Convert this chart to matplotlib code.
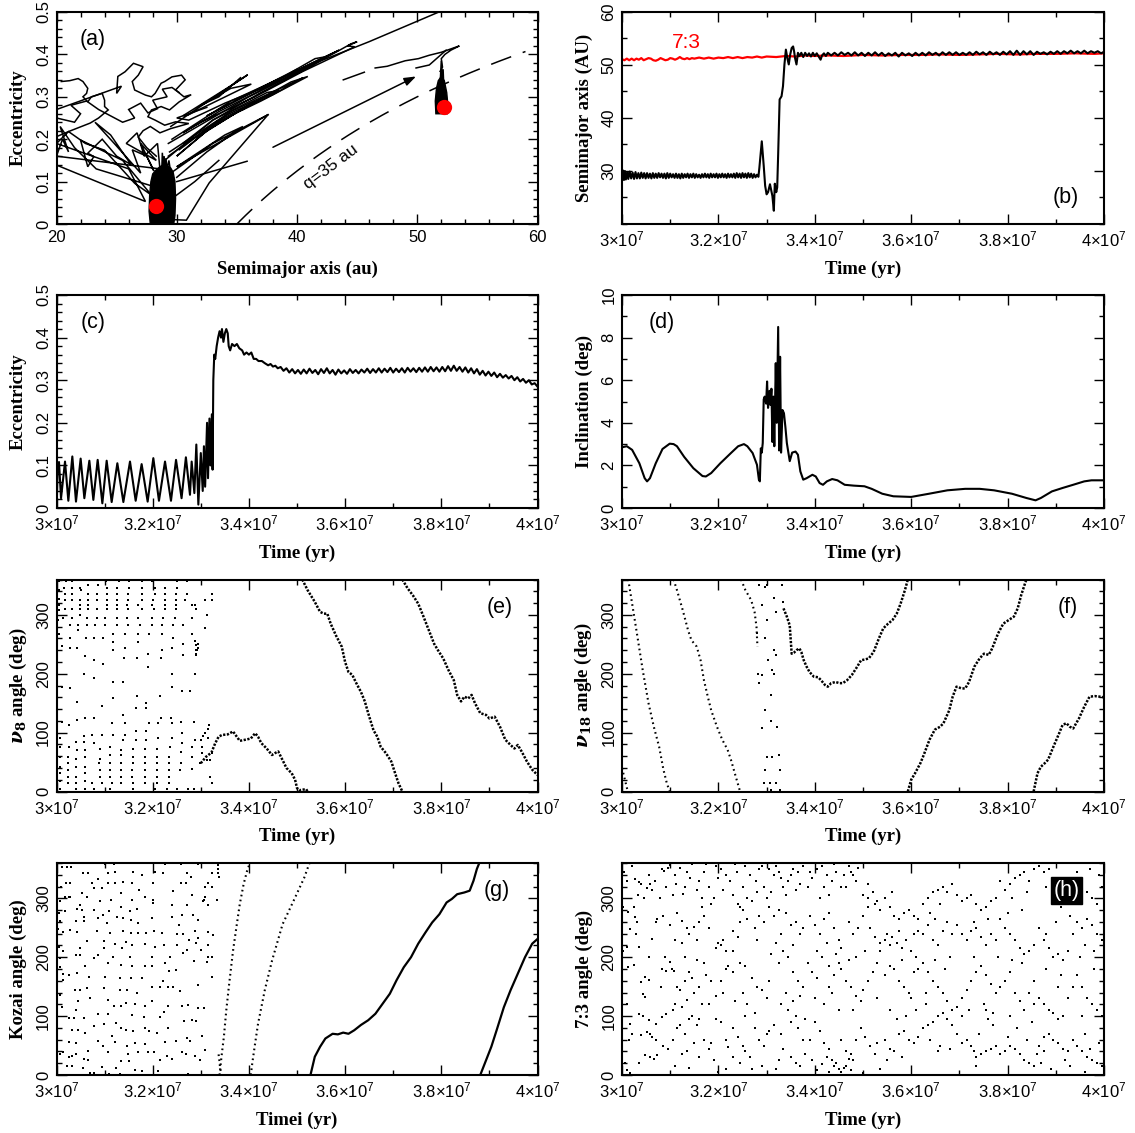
import numpy as np
import matplotlib
matplotlib.use("Agg")
import matplotlib.pyplot as plt
from matplotlib.ticker import MultipleLocator, FixedLocator, FixedFormatter, FuncFormatter

plt.rcParams["font.family"] = ["Liberation Sans", "DejaVu Sans"]
plt.rcParams["mathtext.fontset"] = "custom"
plt.rcParams["mathtext.rm"] = "Liberation Sans"
plt.rcParams["mathtext.it"] = "DejaVu Serif:italic:bold"
plt.rcParams["mathtext.bf"] = "DejaVu Serif:bold"

MYR = 1.0e6  # times below are given in Myr

# ---------------- (a) eccentricity vs semimajor axis ----------------
Q_PERI = 35.0
a_now_start, e_now_start = 28.25, 0.043
a_now_end, e_now_end = 52.2, 0.276
arrow_tail = (38.0, 0.181)
arrow_head = (49.9, 0.348)

trail_upper_left = [(20.0, 0.270), (25.4, 0.325), (25.0, 0.308), (25.1, 0.348), (25.7, 0.359), (26.4, 0.379),
                    (27.2, 0.371), (26.8, 0.351), (26.3, 0.336), (26.5, 0.316), (27.4, 0.304), (27.9, 0.300),
                    (28.2, 0.308), (28.7, 0.332), (29.0, 0.336), (29.6, 0.347), (30.4, 0.351), (30.7, 0.340),
                    (30.3, 0.328), (29.9, 0.316), (30.6, 0.300), (31.2, 0.305), (30.2, 0.288), (29.4, 0.269),
                    (28.7, 0.277), (27.9, 0.269), (27.6, 0.253), (28.2, 0.245), (29.0, 0.233), (29.9, 0.241),
                    (31.0, 0.237), (29.5, 0.225), (28.6, 0.215), (27.8, 0.230), (27.2, 0.220), (26.8, 0.205),
                    (27.5, 0.180), (28.3, 0.160)]
trail_upper_left2 = [(20.0, 0.250), (21.5, 0.240), (22.0, 0.260), (21.2, 0.280), (22.5, 0.290), (23.5, 0.270),
                     (24.5, 0.255), (25.5, 0.240), (26.5, 0.250), (26.0, 0.270), (27.0, 0.285), (27.6, 0.262),
                     (28.4, 0.272), (28.0, 0.292), (29.2, 0.300), (28.8, 0.318), (29.6, 0.322), (30.2, 0.310)]
trail_left = [(20.4, 0.336), (21.1, 0.338), (21.8, 0.343), (22.2, 0.336), (22.6, 0.320), (22.5, 0.308),
              (22.2, 0.300), (22.6, 0.288), (22.9, 0.300), (23.8, 0.308), (24.0, 0.292), (24.0, 0.277),
              (24.3, 0.269), (23.5, 0.250), (22.8, 0.238), (21.9, 0.228), (21.0, 0.218), (20.0, 0.206)]
trail_converge = [(20.0, 0.139), (27.4, 0.053), (26.0, 0.130), (20.0, 0.190), (21.0, 0.218), (22.4, 0.190),
                  (24.0, 0.174), (26.5, 0.096), (27.9, 0.068), (25.5, 0.150), (22.0, 0.198), (22.6, 0.135),
                  (23.1, 0.159), (22.6, 0.167), (23.8, 0.200), (25.0, 0.160), (26.2, 0.140), (24.5, 0.210),
                  (23.2, 0.240), (24.8, 0.190), (27.0, 0.120), (26.3, 0.175), (27.5, 0.160), (28.1, 0.125),
                  (27.0, 0.190), (28.3, 0.150), (25.8, 0.190), (26.7, 0.215), (27.3, 0.160), (28.4, 0.190),
                  (28.6, 0.130), (20.0, 0.160), (20.5, 0.200), (21.0, 0.170), (20.3, 0.230), (21.5, 0.180),
                  (23.3, 0.130), (27.9, 0.090)]
fan_top = [(29.3, 0.190), (36.0, 0.300), (42.0, 0.385), (46.0, 0.430), (51.8, 0.500)]
fan_upper = [(29.0, 0.150), (33.0, 0.245), (37.0, 0.310), (41.0, 0.370), (44.5, 0.425), (45.0, 0.430),
             (44.2, 0.420), (44.8, 0.418), (40.5, 0.360), (36.5, 0.300), (32.0, 0.240), (30.5, 0.215),
             (33.5, 0.265), (38.0, 0.330), (42.5, 0.395), (41.5, 0.390), (37.5, 0.325), (34.0, 0.285),
             (31.0, 0.245), (30.0, 0.250), (32.5, 0.275)]
fan_upper2 = [(29.6, 0.200), (34.5, 0.290), (39.5, 0.355), (43.5, 0.410), (42.0, 0.390), (37.0, 0.320),
              (32.5, 0.255), (35.5, 0.300), (40.0, 0.365)]
fan_band_a = [(29.5, 0.230), (35.9, 0.352), (35.0, 0.335), (30.5, 0.255), (31.0, 0.258), (36.2, 0.330),
              (34.5, 0.320), (32.0, 0.280), (33.5, 0.300), (35.3, 0.345)]
fan_band_b = [(29.3, 0.160), (33.0, 0.235), (37.0, 0.290), (40.9, 0.348), (39.5, 0.335), (36.0, 0.280),
              (32.5, 0.220), (30.0, 0.160), (34.0, 0.255), (38.5, 0.315), (37.5, 0.310), (33.0, 0.245),
              (30.5, 0.190), (32.0, 0.210), (36.5, 0.290), (35.5, 0.270)]
fan_band_b2 = [(29.4, 0.170), (34.5, 0.265), (39.0, 0.325), (40.5, 0.345), (38.0, 0.305), (33.5, 0.245),
               (30.2, 0.175)]
fan_band_c = [(29.5, 0.120), (33.0, 0.190), (37.6, 0.258), (36.5, 0.240), (31.5, 0.160), (30.0, 0.135),
              (34.0, 0.210), (35.5, 0.230), (32.5, 0.170), (30.0, 0.110)]
fan_line_d = [(30.0, 0.100), (35.85, 0.148)]
fan_line_e = [(29.9, 0.010), (30.8, 0.009), (32.7, 0.097), (37.6, 0.258)]
fan_line_f = [(29.6, 0.060), (31.5, 0.100), (33.5, 0.150)]
trail_right_a = [(43.85, 0.340), (45.6, 0.358)]
trail_right_b = [(46.5, 0.368), (47.5, 0.372), (49.0, 0.385), (50.1, 0.390), (51.0, 0.398), (52.0, 0.405),
                 (53.5, 0.420), (52.8, 0.410), (52.3, 0.400), (52.0, 0.390), (52.1, 0.370), (51.9, 0.360)]
trail_right_c = [(49.9, 0.368), (51.0, 0.375), (52.4, 0.410)]
cluster_start = [(27.8, 0.0), (27.7, 0.03), (27.75, 0.07), (27.85, 0.10), (28.0, 0.118), (28.3, 0.128),
                 (28.6, 0.135), (28.9, 0.14), (29.2, 0.138), (29.5, 0.132), (29.7, 0.122), (29.85, 0.10),
                 (29.9, 0.06), (29.85, 0.02), (29.75, 0.0)]
cluster_start_spikes = [(28.75, 0.12), (28.8, 0.168), (28.9, 0.13), (28.95, 0.16), (29.05, 0.125),
                        (29.1, 0.155), (29.2, 0.13), (29.35, 0.15), (29.45, 0.13)]
cluster_end = [(51.55, 0.26), (51.5, 0.29), (51.6, 0.32), (51.75, 0.338), (52.0, 0.348), (52.25, 0.338),
               (52.45, 0.31), (52.55, 0.28), (52.5, 0.26)]
cluster_end_spikes = [(51.9, 0.33), (52.0, 0.385), (52.05, 0.34), (52.15, 0.365), (52.2, 0.33)]

# ---------------- (b) semimajor axis vs time ----------------
b_object = [(30.00, 29.0), (30.02, 30.1), (30.04, 28.3), (30.06, 30.0), (30.08, 28.4), (30.11, 29.8),
            (30.13, 28.5), (30.16, 29.9), (30.19, 28.6), (30.22, 29.7), (30.25, 28.5), (30.28, 29.8),
            (30.31, 28.6), (30.34, 29.6), (30.37, 28.6), (30.40, 29.7), (30.43, 28.7), (30.46, 29.6),
            (30.49, 28.6), (30.52, 29.6), (30.55, 28.7), (30.58, 29.5), (30.61, 28.6), (30.64, 29.6),
            (30.67, 28.7), (30.70, 29.5), (30.73, 28.7), (30.76, 29.6), (30.79, 28.8), (30.82, 29.5),
            (30.85, 28.7), (30.88, 29.5), (30.91, 28.6), (30.94, 29.6), (30.97, 28.7), (31.00, 29.5),
            (31.03, 28.8), (31.06, 29.4), (31.09, 28.7), (31.12, 29.5), (31.15, 28.7), (31.18, 29.4),
            (31.21, 28.6), (31.24, 29.5), (31.27, 28.7), (31.30, 29.4), (31.33, 28.8), (31.36, 29.5),
            (31.39, 28.7), (31.42, 29.4), (31.45, 28.8), (31.48, 29.5), (31.51, 28.7), (31.54, 29.4),
            (31.57, 28.8), (31.60, 29.3), (31.63, 28.7), (31.66, 29.4), (31.69, 28.8), (31.72, 29.5),
            (31.75, 28.8), (31.78, 29.4), (31.81, 28.7), (31.84, 29.5), (31.87, 28.8), (31.90, 29.4),
            (31.93, 28.8), (31.96, 29.5), (31.99, 28.7), (32.02, 29.4), (32.05, 28.8), (32.08, 29.5),
            (32.11, 28.8), (32.14, 29.4), (32.17, 28.7), (32.20, 29.5), (32.23, 28.8), (32.26, 29.4),
            (32.29, 28.8), (32.32, 29.5), (32.35, 28.7), (32.38, 29.6), (32.41, 28.8), (32.44, 29.5),
            (32.47, 28.7), (32.50, 29.6), (32.53, 28.8), (32.56, 29.5), (32.59, 28.7), (32.62, 29.6),
            (32.65, 28.8), (32.68, 29.5), (32.71, 28.7), (32.74, 29.4), (32.77, 28.8), (32.80, 29.3),
            (32.83, 28.9), (32.85, 30.6), (32.90, 35.6), (32.94, 31.0), (32.97, 27.2), (33.00, 25.6),
            (33.03, 26.0), (33.07, 27.5), (33.10, 26.2), (33.12, 25.3), (33.15, 22.5), (33.17, 27.6),
            (33.20, 26.0), (33.22, 26.9), (33.24, 33.2), (33.27, 43.5), (33.31, 44.1), (33.34, 46.0),
            (33.37, 50.1), (33.40, 52.9), (33.43, 51.3), (33.46, 50.1), (33.49, 52.0), (33.52, 53.2),
            (33.55, 53.5), (33.57, 52.6), (33.59, 51.3), (33.62, 50.1), (33.65, 52.3), (33.68, 51.7),
            (33.72, 52.3), (33.76, 51.5), (33.80, 52.3), (33.84, 51.7), (33.88, 52.2), (33.92, 51.6),
            (33.96, 52.3), (34.00, 51.7), (34.04, 52.2), (34.08, 51.6), (34.12, 51.0), (34.15, 51.8),
            (34.19, 52.2), (34.23, 51.7), (34.27, 52.3), (34.34, 51.8), (34.41, 52.3), (34.48, 51.8),
            (34.55, 52.4), (34.62, 51.9), (34.69, 52.3), (34.76, 51.8), (34.83, 52.4), (34.90, 51.8),
            (34.97, 52.3), (35.04, 51.7), (35.11, 52.3), (35.18, 51.8), (35.25, 52.4), (35.32, 51.8),
            (35.39, 52.3), (35.46, 51.7), (35.53, 52.2), (35.60, 51.8), (35.67, 52.3), (35.74, 51.6),
            (35.81, 52.3), (35.88, 51.8), (35.95, 52.2), (36.02, 51.7), (36.09, 52.3), (36.16, 51.8),
            (36.23, 52.3), (36.30, 51.8), (36.37, 52.4), (36.44, 51.9), (36.51, 52.3), (36.58, 51.8),
            (36.65, 52.4), (36.72, 51.9), (36.79, 52.4), (36.86, 51.9), (36.93, 52.4), (37.00, 51.9),
            (37.07, 52.3), (37.14, 51.9), (37.21, 52.4), (37.28, 51.9), (37.35, 52.5), (37.42, 52.0),
            (37.49, 52.4), (37.56, 51.9), (37.63, 52.5), (37.70, 52.0), (37.77, 52.4), (37.84, 51.9),
            (37.91, 52.5), (37.98, 52.0), (38.05, 52.6), (38.12, 51.9), (38.19, 52.7), (38.26, 51.9),
            (38.33, 52.6), (38.40, 52.0), (38.47, 52.6), (38.54, 51.9), (38.61, 52.5), (38.68, 52.1),
            (38.75, 52.4), (38.82, 52.0), (38.89, 52.5), (38.96, 52.1), (39.03, 52.6), (39.10, 52.1),
            (39.17, 52.6), (39.24, 52.2), (39.31, 52.7), (39.38, 52.2), (39.45, 52.6), (39.52, 52.2),
            (39.59, 52.7), (39.66, 52.2), (39.73, 52.6), (39.80, 52.3), (39.87, 52.6), (39.94, 52.2),
            (40.00, 52.5)]
b_res73 = [(30.00, 51.1), (30.05, 50.9), (30.10, 51.2), (30.15, 50.9), (30.20, 51.2), (30.25, 50.9),
           (30.30, 51.2), (30.35, 51.0), (30.40, 51.3), (30.45, 50.9), (30.50, 51.1), (30.55, 51.3),
           (30.60, 51.2), (30.65, 50.9), (30.70, 50.8), (30.75, 51.0), (30.80, 51.3), (30.85, 51.1),
           (30.90, 50.9), (30.95, 51.0), (31.00, 51.3), (31.05, 51.2), (31.10, 51.0), (31.15, 51.2),
           (31.20, 51.5), (31.25, 51.2), (31.30, 51.1), (31.35, 51.3), (31.40, 51.1), (31.45, 51.3),
           (31.50, 51.2), (31.60, 51.4), (31.70, 51.2), (31.80, 51.4), (31.90, 51.2), (32.00, 51.4),
           (32.10, 51.3), (32.20, 51.5), (32.30, 51.3), (32.40, 51.5), (32.50, 51.3), (32.60, 51.5),
           (32.70, 51.4), (32.80, 51.6), (32.90, 51.4), (33.00, 51.6), (33.20, 51.5), (33.40, 51.7),
           (33.60, 51.6), (33.80, 51.8), (34.00, 51.7), (34.30, 51.8), (34.60, 51.7), (35.00, 51.9),
           (35.40, 51.8), (35.80, 51.9), (36.20, 51.9), (36.60, 52.0), (37.00, 51.9), (37.40, 52.0),
           (37.80, 52.1), (38.20, 52.0), (38.60, 52.1), (39.00, 52.1), (39.40, 52.2), (39.80, 52.1),
           (40.00, 52.2)]
res73_label = (31.33, 54.2)

# ---------------- (c) eccentricity vs time ----------------
c_ecc = [(30.00, 0.100), (30.01, 0.030), (30.025, 0.100), (30.052, 0.108), (30.094, 0.023), (30.177, 0.109),
         (30.246, 0.017), (30.329, 0.121), (30.405, 0.015), (30.502, 0.116), (30.579, 0.023), (30.683, 0.111),
         (30.766, 0.019), (30.856, 0.113), (30.953, 0.011), (31.043, 0.111), (31.147, 0.014), (31.265, 0.105),
         (31.390, 0.014), (31.528, 0.109), (31.646, 0.017), (31.770, 0.103), (31.895, 0.015), (32.013, 0.117),
         (32.130, 0.017), (32.256, 0.109), (32.380, 0.017), (32.485, 0.113), (32.600, 0.023), (32.690, 0.119),
         (32.775, 0.031), (32.810, 0.109), (32.866, 0.035), (32.907, 0.149), (32.949, 0.008), (33.000, 0.129),
         (33.040, 0.040), (33.065, 0.145), (33.090, 0.050), (33.130, 0.200), (33.150, 0.070), (33.180, 0.210),
         (33.200, 0.100), (33.230, 0.220), (33.245, 0.090), (33.260, 0.300), (33.280, 0.360), (33.300, 0.350),
         (33.330, 0.380), (33.360, 0.400), (33.390, 0.415), (33.420, 0.400), (33.440, 0.420), (33.470, 0.390),
         (33.500, 0.410), (33.530, 0.420), (33.560, 0.410), (33.580, 0.380), (33.610, 0.370), (33.650, 0.385),
         (33.700, 0.380), (33.750, 0.385), (33.800, 0.375), (33.860, 0.370), (33.900, 0.360), (33.950, 0.365),
         (34.000, 0.360), (34.050, 0.365), (34.100, 0.350), (34.150, 0.350), (34.200, 0.345), (34.270, 0.345),
         (34.330, 0.340), (34.400, 0.335), (34.450, 0.338), (34.500, 0.332), (34.550, 0.334), (34.600, 0.328),
         (34.66, 0.331), (34.72, 0.322), (34.78, 0.328), (34.84, 0.318), (34.90, 0.326), (34.96, 0.316),
         (35.02, 0.324), (35.08, 0.315), (35.14, 0.325), (35.20, 0.316), (35.26, 0.327), (35.32, 0.317),
         (35.38, 0.324), (35.44, 0.314), (35.50, 0.326), (35.56, 0.317), (35.62, 0.328), (35.68, 0.316),
         (35.74, 0.324), (35.80, 0.313), (35.86, 0.325), (35.92, 0.316), (35.98, 0.323), (36.04, 0.315),
         (36.10, 0.326), (36.16, 0.317), (36.22, 0.324), (36.28, 0.316), (36.34, 0.325), (36.40, 0.318),
         (36.46, 0.327), (36.52, 0.317), (36.58, 0.326), (36.64, 0.318), (36.70, 0.328), (36.76, 0.318),
         (36.82, 0.327), (36.88, 0.319), (36.94, 0.329), (37.00, 0.318), (37.06, 0.327), (37.12, 0.319),
         (37.18, 0.328), (37.24, 0.318), (37.30, 0.329), (37.36, 0.320), (37.42, 0.328), (37.48, 0.319),
         (37.54, 0.329), (37.60, 0.320), (37.66, 0.330), (37.72, 0.320), (37.78, 0.331), (37.84, 0.321),
         (37.90, 0.330), (37.96, 0.320), (38.02, 0.331), (38.08, 0.321), (38.14, 0.333), (38.20, 0.322),
         (38.26, 0.334), (38.32, 0.322), (38.38, 0.331), (38.44, 0.320), (38.50, 0.330), (38.56, 0.318),
         (38.62, 0.328), (38.68, 0.316), (38.74, 0.326), (38.80, 0.313), (38.86, 0.322), (38.92, 0.311),
         (38.98, 0.320), (39.04, 0.310), (39.10, 0.318), (39.16, 0.307), (39.22, 0.315), (39.28, 0.306),
         (39.34, 0.312), (39.40, 0.304), (39.46, 0.310), (39.52, 0.300), (39.58, 0.307), (39.64, 0.297),
         (39.70, 0.303), (39.76, 0.294), (39.82, 0.300), (39.88, 0.290), (39.94, 0.293), (40.00, 0.285)]

# ---------------- (d) inclination vs time ----------------
d_incl = [(30.00, 2.85), (30.10, 2.9), (30.21, 2.73), (30.36, 2.1), (30.47, 1.4), (30.52, 1.25), (30.58, 1.4),
          (30.70, 2.1), (30.84, 2.77), (30.99, 3.02), (31.07, 3.0), (31.14, 2.9), (31.29, 2.4), (31.48, 1.87),
          (31.67, 1.5), (31.74, 1.48), (31.85, 1.64), (32.04, 2.1), (32.26, 2.58), (32.41, 2.9), (32.53, 3.0),
          (32.60, 2.9), (32.71, 2.58), (32.80, 2.03), (32.84, 1.33), (32.86, 1.25), (32.88, 2.8), (32.90, 2.6),
          (32.92, 3.05), (32.94, 5.1), (32.96, 5.23), (32.99, 4.9), (33.01, 5.94), (33.03, 4.7), (33.06, 5.5),
          (33.08, 4.84), (33.10, 5.6), (33.12, 3.1), (33.14, 5.23), (33.16, 2.9), (33.19, 6.8), (33.21, 4.0),
          (33.24, 8.5), (33.26, 2.7), (33.28, 7.1), (33.30, 2.6), (33.33, 4.6), (33.36, 4.45), (33.39, 3.8),
          (33.42, 3.05), (33.48, 2.2), (33.53, 2.6), (33.60, 2.65), (33.65, 2.5), (33.70, 1.72), (33.76, 1.33),
          (33.83, 1.4), (33.95, 1.56), (34.02, 1.48), (34.10, 1.17), (34.17, 1.09), (34.25, 1.25), (34.36, 1.36),
          (34.47, 1.3), (34.62, 1.09), (34.81, 1.05), (35.03, 1.02), (35.18, 0.9), (35.40, 0.67), (35.63, 0.55),
          (36.00, 0.52), (36.37, 0.67), (36.75, 0.83), (37.12, 0.9), (37.42, 0.9), (37.72, 0.83), (38.09, 0.67),
          (38.39, 0.47), (38.58, 0.36), (38.69, 0.47), (38.92, 0.78), (39.14, 0.94), (39.36, 1.09), (39.59, 1.25),
          (39.74, 1.3), (40.00, 1.3)]

# ---------------- (e) nu8 angle ----------------
e_cloud_rows = [
    (358, [30.05, 30.19, 30.33, 31.02, 31.29, 31.51, 31.78, 31.98, 32.50, 32.71]),
    (350, [30.66, 30.87]),
    (346, [30.16, 30.32, 30.49, 31.04, 31.25, 31.51, 31.77, 32.05, 32.26, 32.50]),
    (342, [30.05, 30.51]),
    (335, [30.18, 30.32, 30.66, 30.84, 31.04, 31.25, 31.48, 31.77, 32.05, 32.26, 32.48, 32.71, 33.24]),
    (327, [30.05]),
    (325, [30.18, 30.32, 30.49, 30.66, 30.84, 31.04, 31.25, 31.49, 31.77, 32.01, 32.26, 32.48, 32.67, 33.09, 33.24]),
    (317, [30.05, 30.49, 30.66, 31.04, 31.25, 31.46, 31.70, 31.98, 32.26, 32.48, 32.81, 32.88]),
    (310, [30.18, 30.32, 30.49, 30.66, 30.84, 31.04, 31.25, 31.48, 31.77, 32.03, 32.26, 32.48, 32.91]),
    (308, [30.05]),
    (299, [30.49, 33.12]),
    (295, [30.14, 30.32, 30.64, 30.84, 31.01, 31.25, 31.46, 31.70, 31.98, 32.22, 32.46, 32.81]),
    (291, [30.04]),
    (282, [30.28, 30.45, 30.63, 30.80, 31.01, 31.25, 31.48, 31.74, 31.99, 32.20, 32.43, 32.64]),
    (277, [33.09]),
    (275, [30.45]),
    (268, [30.05, 31.18, 31.42, 31.69, 31.92, 32.19, 32.81]),
    (261, [30.28, 30.61, 30.79, 30.97]),
    (260, [32.43]),
    (254, [31.18, 31.70]),
    (251, [32.64, 32.95]),
    (247, [30.11]),
    (244, [30.28, 30.42, 31.42, 32.41, 32.94]),
    (240, [31.18, 32.19, 32.91]),
    (234, [31.91, 32.91]),
    (231, [32.62]),
    (230, [30.59]),
    (226, [31.41, 31.67, 32.17]),
    (223, [30.79]),
    (216, [30.96]),
    (212, [31.90]),
    (199, [30.58, 32.40, 32.87]),
    (192, [30.77]),
    (186, [31.18, 31.39]),
    (178, [30.11, 32.40]),
    (175, [30.28]),
    (170, [32.60, 32.78]),
    (163, [31.67, 32.15]),
    (158, [31.18]),
    (152, [30.42]),
    (151, [31.87]),
    (145, [30.94]),
    (142, [31.87]),
    (141, [31.65]),
    (130, [31.39]),
    (125, [32.17, 32.38]),
    (124, [30.59, 30.77]),
    (121, [30.42]),
    (118, [30.11, 32.59, 32.85]),
    (116, [31.16, 31.42, 31.92, 32.12, 32.40]),
    (113, [30.25, 33.17]),
    (106, [33.16]),
    (103, [31.65, 31.87]),
    (100, [32.60, 33.09]),
    (96, [30.73, 30.94, 31.18, 31.42]),
    (95, [30.58, 33.05]),
    (91, [30.07, 32.12, 32.40, 33.14]),
    (87, [31.39, 31.65, 31.87, 32.87, 33.00]),
    (84, [30.40, 30.58]),
    (83, [30.79, 32.60]),
    (76, [30.07, 30.25, 31.11, 32.36, 32.81, 33.02]),
    (73, [30.90, 31.60, 31.83, 32.08]),
    (70, [30.42, 30.59, 31.35]),
    (67, [32.59]),
    (65, [33.02, 33.23]),
    (62, [31.11, 31.35]),
    (59, [30.07, 30.23, 30.59, 31.60, 31.84, 32.08, 32.33, 32.81]),
    (56, [30.40, 30.90]),
    (53, [33.12, 33.19]),
    (49, [30.89]),
    (48, [30.23, 31.11, 31.35, 31.60, 31.83, 32.08, 32.33, 32.59, 32.98]),
    (42, [30.07, 30.40, 30.59]),
    (39, [32.82]),
    (36, [30.23, 30.90, 31.11, 31.34, 31.58, 31.83, 32.08, 32.33, 32.57]),
    (31, [30.07, 30.59]),
    (25, [30.23, 30.40, 30.90, 31.11, 31.35, 31.58, 31.83, 32.08, 32.33, 33.19]),
    (17, [30.07, 30.59]),
    (14, [30.23, 30.40, 30.73, 30.94, 31.15, 31.35, 31.60, 31.83, 32.08, 32.33, 33.23]),
    (5, [30.07, 30.40, 30.59, 30.77, 31.11, 31.60, 32.05, 32.29, 32.50, 32.74, 32.85]),
]
e_chain = [(32.88, 255), (32.90, 248), (32.92, 240), (32.91, 232)]
e_track1 = [(33.00, 48), (33.11, 59), (33.22, 66), (33.30, 82), (33.37, 93), (33.44, 96), (33.56, 97), (33.67, 102),
            (33.74, 94), (33.81, 86), (33.93, 88), (34.04, 90), (34.13, 99), (34.19, 93), (34.26, 82), (34.37, 73),
            (34.48, 62), (34.56, 66), (34.61, 68), (34.69, 55), (34.78, 40), (34.89, 31), (34.96, 20), (35.00, 6),
            (35.04, 2), (35.11, 3), (35.19, 4), (35.22, 0)]
e_track2 = [(35.11, 360), (35.22, 342), (35.37, 322), (35.48, 305), (35.56, 302), (35.63, 302), (35.70, 285),
            (35.81, 265), (35.93, 246), (36.00, 220), (36.07, 203), (36.15, 198), (36.22, 186), (36.33, 169),
            (36.41, 153), (36.48, 133), (36.59, 104), (36.67, 93), (36.74, 76), (36.85, 65), (36.96, 51),
            (37.04, 31), (37.11, 14), (37.19, 0)]
e_track3 = [(37.19, 360), (37.30, 345), (37.41, 333), (37.52, 319), (37.63, 297), (37.74, 274), (37.85, 251),
            (37.93, 240), (38.04, 226), (38.15, 206), (38.26, 189), (38.33, 164), (38.41, 153), (38.48, 161),
            (38.56, 158), (38.63, 164), (38.70, 150), (38.81, 133), (38.93, 130), (39.00, 124), (39.11, 127),
            (39.22, 110), (39.33, 88), (39.44, 79), (39.52, 73), (39.59, 79), (39.67, 68), (39.78, 51),
            (39.89, 37), (40.00, 28)]

# ---------------- (f) nu18 angle ----------------
f_track1 = [(30.00, 40), (30.06, 20), (30.12, 0)]
f_track2 = [(30.13, 360), (30.21, 319), (30.32, 263), (30.43, 206), (30.55, 150), (30.66, 110), (30.77, 76),
            (30.86, 37), (30.93, 14), (30.99, 0)]
f_track3 = [(31.07, 360), (31.14, 342), (31.26, 308), (31.37, 274), (31.44, 257), (31.55, 246), (31.63, 223),
            (31.70, 189), (31.78, 161), (31.85, 138), (31.97, 110), (32.08, 88), (32.19, 71), (32.26, 54),
            (32.34, 31), (32.40, 14), (32.45, 0)]
f_track4 = [(32.47, 360), (32.56, 342), (32.68, 325), (32.75, 305), (32.79, 280), (32.81, 246)]
f_scatter = [(32.85, 350), (32.90, 316), (33.00, 350), (33.01, 291), (33.03, 223), (32.97, 260), (32.91, 198),
             (32.90, 107), (32.97, 138), (33.00, 59), (32.97, 37), (32.94, 14), (33.09, 119), (33.12, 59),
             (33.16, 328), (33.20, 305), (33.16, 240), (33.12, 206), (33.16, 200), (33.20, 232), (33.09, 164),
             (33.22, 110), (33.25, 62), (33.27, 37), (33.27, 3), (33.09, 3), (33.31, 350), (33.35, 322),
             (33.07, 14), (33.20, 14), (32.97, 347), (32.80, 270), (32.83, 200), (32.84, 185)]
f_track5 = [(33.35, 311), (33.42, 297), (33.48, 282), (33.52, 234), (33.57, 236), (33.62, 240), (33.68, 243),
            (33.72, 237), (33.77, 223), (33.83, 212), (33.89, 203), (33.98, 195), (34.07, 194), (34.13, 189),
            (34.21, 181), (34.27, 178), (34.34, 184), (34.43, 186), (34.51, 184), (34.58, 184), (34.67, 189),
            (34.77, 198), (34.88, 212), (34.96, 223), (35.03, 224), (35.12, 226), (35.22, 237), (35.33, 260),
            (35.42, 277), (35.52, 285), (35.61, 291), (35.70, 302), (35.78, 319), (35.87, 342), (35.93, 360)]
f_track6 = [(35.93, 0), (36.00, 20), (36.08, 31), (36.19, 48), (36.26, 62), (36.38, 88), (36.49, 105),
            (36.60, 110), (36.67, 116), (36.79, 138), (36.86, 161), (36.94, 178), (37.05, 175), (37.12, 175),
            (37.20, 186), (37.31, 212), (37.42, 226), (37.51, 234), (37.61, 232), (37.68, 243), (37.80, 268),
            (37.91, 285), (38.02, 291), (38.13, 297), (38.21, 311), (38.28, 333), (38.36, 353), (38.39, 360)]
f_track7 = [(38.54, 0), (38.62, 31), (38.69, 42), (38.77, 48), (38.84, 54), (38.95, 76), (39.07, 99),
            (39.14, 113), (39.22, 116), (39.29, 110), (39.36, 107), (39.48, 124), (39.59, 144), (39.70, 161),
            (39.81, 162), (39.92, 161), (40.00, 160)]

# ---------------- (g) Kozai angle ----------------
g_cloud_rows = [
    (358, [31.01, 31.20, 32.26, 32.59, 32.94]), (353, [30.11, 30.21, 30.30]), (345, [31.22, 31.60, 32.05]),
    (343, [30.56, 30.65, 31.08, 32.22, 32.71, 33.23]), (340, [31.78]), (337, [32.80]), (333, [30.86]),
    (328, [31.39]), (326, [30.19, 30.29, 30.73, 31.08, 31.22, 31.58, 32.01, 32.59, 32.69, 33.14]),
    (320, [30.09, 33.09, 33.23]), (318, [30.79, 30.94]), (315, [31.72]), (312, [32.43]), (309, [30.54, 31.35]),
    (306, [32.82]), (303, [30.63, 31.84]), (302, [30.18, 30.25, 30.29, 33.09]),
    (298, [31.13, 31.58, 32.01, 33.07, 33.33]), (295, [30.07, 30.90, 33.05]), (292, [32.01]), (289, [33.16]),
    (288, [30.49, 32.40, 32.71]), (285, [31.34]), (282, [30.42, 31.67]), (281, [30.54, 30.79]),
    (278, [30.18, 31.09, 31.53]), (275, [30.06]), (272, [30.97, 32.60, 32.83]), (269, [30.58, 31.25, 32.40]),
    (267, [30.87, 31.39, 31.98]), (264, [31.55, 32.94]), (262, [30.07]), (261, [30.40, 30.58]),
    (258, [31.06, 31.70]), (255, [32.55]), (248, [30.04]), (247, [30.28]), (245, [30.85, 31.39, 32.03, 32.88]),
    (243, [30.14, 30.42, 33.14]), (241, [31.11, 31.55, 31.69, 31.87, 32.19]), (239, [32.50, 32.64]),
    (237, [33.26]), (233, [32.94]), (230, [32.76]), (227, [30.63, 30.995]), (226, [31.44]), (224, [32.91]),
    (222, [31.22, 31.84]), (220, [31.58, 32.23, 32.50, 33.16]), (218, [30.05, 32.05]), (216, [30.49, 30.995]),
    (215, [31.37]), (213, [32.71, 33.00]), (210, [30.14]), (207, [32.64]), (204, [30.87]), (203, [30.40, 30.49]),
    (201, [31.18, 31.53, 31.98, 32.36, 33.16, 33.23]), (199, [30.07]), (198, [30.79]), (194, [32.85]),
    (192, [33.12]), (190, [31.08, 32.26]), (187, [31.35]), (185, [30.59, 31.56, 31.85, 31.98]), (183, [30.07]),
    (179, [32.48]), (176, [32.33]), (173, [30.42]), (171, [30.14]), (169, [30.25]), (167, [31.01, 33.23]),
    (166, [30.68]), (165, [31.32, 31.55, 31.78]), (162, [30.14]), (159, [32.22]), (153, [32.95]),
    (150, [32.15, 32.31, 32.43]), (149, [31.98]), (148, [30.995]), (147, [30.63]),
    (145, [30.385, 30.49, 31.32, 31.46]), (142, [32.57]), (139, [31.67]), (136, [30.07]), (131, [30.70]),
    (128, [31.08]), (125, [30.45, 31.98]), (122, [31.45]), (121, [31.63]), (119, [32.74]),
    (118, [31.20, 31.34, 31.84, 32.31, 32.60]), (115, [30.11]), (114, [32.95, 33.07]), (111, [30.40]),
    (107, [32.24]), (104, [30.87, 31.08]), (102, [31.56]), (98, [31.81, 32.15]), (97, [30.27, 30.37, 30.58]),
    (94, [32.82]), (92, [32.91]), (91, [32.66]), (88, [31.23]), (87, [30.995]), (83, [30.79]), (80, [31.83]),
    (79, [31.34, 32.31]), (77, [30.33, 30.45, 31.44]), (75, [31.60]), (74, [31.92]), (71, [30.59, 32.08]),
    (67, [33.02]), (66, [31.15]), (63, [32.71]), (58, [30.02, 32.78]), (57, [30.86, 32.48]),
    (56, [30.25, 31.22, 32.26]), (54, [30.40, 31.63]), (52, [31.83]), (50, [30.97]), (49, [31.46]),
    (43, [33.09]), (41, [30.66]), (39, [30.14, 31.08, 31.70, 31.90, 32.03, 32.60]), (36, [30.07, 31.48, 32.69]),
    (35, [30.40]), (32, [30.33, 32.29, 32.87]), (30, [30.25]), (28, [30.58, 32.40]), (26, [30.66, 32.15, 32.98]),
    (23, [31.35, 31.51]), (16, [30.21]), (15, [30.32]), (13, [30.94]), (12, [30.56, 31.23]), (9, [31.63]),
    (6, [31.78, 32.12]), (3, [30.70, 30.79]), (2, [31.09, 32.74]), (1, [31.32]),
    (357, [33.35]), (350, [33.36]), (343, [33.36]), (336, [33.37]),
]
g_track1 = [(33.37, 35), (33.39, 22), (33.40, 12), (33.42, 5)]
g_track2 = [(33.39, 0), (33.43, 31), (33.48, 65), (33.53, 110), (33.59, 155), (33.67, 211), (33.74, 251),
            (33.81, 290), (33.89, 324), (33.96, 346), (34.02, 360)]
g_track3 = [(34.04, 0), (34.07, 20), (34.13, 54), (34.19, 87), (34.33, 144), (34.48, 194), (34.70, 256),
            (34.93, 296), (35.15, 335), (35.26, 360)]
g_track4 = [(35.28, 0), (35.37, 31), (35.48, 48), (35.59, 62), (35.74, 70), (35.85, 69), (35.96, 72),
            (36.07, 70), (36.19, 76), (36.33, 85), (36.48, 93), (36.63, 104), (36.78, 121), (36.93, 138),
            (37.07, 161), (37.22, 183), (37.37, 200), (37.52, 223), (37.67, 242), (37.81, 259), (37.96, 273),
            (38.11, 293), (38.22, 299), (38.33, 307), (38.48, 310), (38.59, 313), (38.67, 330), (38.74, 350),
            (38.79, 360)]
g_track5 = [(38.81, 0), (38.93, 25), (39.04, 48), (39.15, 76), (39.30, 115), (39.44, 144), (39.59, 172),
            (39.74, 200), (39.89, 223), (40.00, 231)]

# ---------------- (h) 7:3 resonant angle ----------------
h_dots = [
    (30.10, 330), (30.28, 332), (30.36, 327), (30.40, 324), (30.51, 318), (30.58, 324), (30.62, 315), (30.84, 349),
    (30.88, 346), (30.96, 352), (30.02, 285), (30.13, 276), (30.25, 285), (30.28, 268), (30.32, 259), (30.17, 248),
    (30.10, 217), (30.02, 211), (30.36, 217), (30.62, 231), (30.73, 265), (30.70, 259), (30.13, 183), (30.25, 186),
    (30.40, 158), (30.47, 166), (30.43, 138), (30.47, 132), (30.55, 161), (30.84, 180), (30.92, 177), (31.03, 180),
    (31.07, 177), (30.10, 121), (30.36, 104), (30.17, 87), (30.43, 101), (30.55, 93), (30.70, 87), (30.84, 99),
    (30.92, 104), (30.21, 70), (30.40, 68), (30.51, 73), (30.58, 70), (30.62, 65), (30.70, 59), (30.47, 34),
    (30.58, 31), (30.66, 28), (30.73, 34), (30.06, 20), (30.10, 8), (30.17, 3),
    (31.00, 357), (31.10, 340), (31.20, 352), (31.35, 345), (31.45, 358), (31.30, 320), (31.05, 305),
    (30.85, 270), (31.00, 255), (31.15, 275), (31.25, 262), (31.35, 250), (31.40, 240), (31.50, 252), (31.10, 230),
    (31.25, 225), (30.90, 200), (31.00, 192), (31.15, 150), (31.20, 145), (31.30, 160), (31.40, 175), (31.45, 165),
    (31.10, 120), (31.25, 115), (31.35, 128), (31.50, 140), (30.85, 50), (30.95, 45), (31.05, 60), (31.15, 80),
    (31.20, 85), (31.30, 70), (31.40, 95), (31.45, 100), (31.35, 40), (31.25, 35), (31.50, 55), (31.10, 15),
    (31.40, 12),
    (31.60, 330), (31.70, 345), (31.80, 320), (31.90, 300), (32.00, 335), (32.05, 350), (32.15, 340), (32.10, 315),
    (31.75, 358), (31.60, 260), (31.70, 270), (31.80, 250), (31.95, 215), (32.00, 225), (32.05, 220), (32.10, 230),
    (32.15, 210), (31.65, 285), (31.85, 290), (31.55, 195), (31.70, 190), (31.75, 170), (31.85, 160), (31.95, 135),
    (32.10, 140), (32.15, 180), (32.20, 185), (31.60, 150), (31.65, 120), (31.55, 85), (31.70, 60), (31.80, 45),
    (31.85, 55), (31.95, 95), (32.05, 90), (32.15, 60), (32.20, 48), (31.60, 30), (31.90, 25), (32.00, 5),
    (32.15, 10),
    (32.30, 305), (32.40, 290), (32.45, 285), (32.50, 280), (32.60, 300), (32.70, 295), (32.80, 310), (32.85, 350),
    (32.90, 355), (32.35, 358), (32.55, 355), (32.95, 320), (32.30, 245), (32.45, 260), (32.60, 265), (32.75, 250),
    (32.85, 270), (32.95, 260), (32.40, 235), (32.30, 175), (32.45, 190), (32.55, 185), (32.70, 165), (32.80, 150),
    (32.90, 145), (33.00, 130), (32.60, 120), (32.75, 105), (32.35, 125), (32.50, 140), (32.30, 80), (32.40, 65),
    (32.50, 50), (32.55, 40), (32.65, 30), (32.75, 80), (32.85, 60), (32.95, 50), (33.00, 70), (32.45, 20),
    (32.70, 10), (32.90, 15),
    (33.05, 350), (33.15, 340), (33.20, 355), (33.30, 335), (33.35, 320), (33.45, 330), (33.55, 350), (33.65, 345),
    (33.75, 355), (33.60, 315), (33.40, 305), (33.10, 310), (33.05, 285), (33.15, 270), (33.25, 280), (33.40, 275),
    (33.50, 255), (33.60, 260), (33.70, 240), (33.75, 250), (33.30, 240), (33.20, 225), (33.10, 205), (33.25, 190),
    (33.35, 210), (33.45, 200), (33.55, 175), (33.65, 160), (33.75, 150), (33.40, 140), (33.55, 125), (33.70, 135),
    (33.05, 75), (33.15, 85), (33.30, 70), (33.45, 110), (33.50, 90), (33.60, 100), (33.65, 80), (33.75, 60),
    (33.35, 45), (33.50, 30), (33.60, 20), (33.70, 15), (33.20, 10), (33.80, 35),
    (33.85, 320), (33.95, 335), (34.05, 350), (34.15, 355), (34.25, 340), (34.35, 330), (34.45, 345), (34.55, 320),
    (34.10, 300), (34.30, 305), (33.90, 270), (34.00, 255), (34.10, 240), (34.20, 265), (34.30, 275), (34.40, 250),
    (34.50, 230), (34.55, 215), (34.25, 225), (33.85, 190), (33.95, 175), (34.05, 165), (34.15, 200), (34.30, 185),
    (34.40, 170), (34.50, 190), (34.45, 205), (34.55, 180), (34.00, 130), (34.20, 120), (34.35, 140), (34.50, 110),
    (33.90, 60), (34.00, 90), (34.10, 75), (34.20, 55), (34.30, 45), (34.35, 25), (34.40, 15), (34.45, 20),
    (34.50, 10), (34.55, 5), (34.60, 12), (34.25, 30), (34.15, 18), (33.95, 25), (34.05, 8),
    (34.70, 355), (34.75, 345), (34.80, 340), (34.90, 352), (35.00, 305), (35.10, 300), (35.20, 310), (35.30, 295),
    (35.35, 280), (34.65, 320), (34.70, 260), (34.80, 240), (34.90, 250), (35.00, 270), (35.10, 285), (35.15, 250),
    (35.25, 235), (35.35, 225), (34.65, 160), (34.75, 150), (34.85, 135), (34.95, 125), (35.00, 145), (35.10, 160),
    (35.20, 175), (35.30, 190), (35.35, 210), (34.70, 195), (34.85, 200), (34.65, 40), (34.75, 35), (34.85, 60),
    (34.95, 80), (35.05, 65), (35.15, 50), (35.25, 35), (35.35, 10), (35.00, 3), (34.80, 25), (35.30, 55),
    (35.45, 300), (35.55, 285), (35.65, 270), (35.75, 265), (35.85, 275), (35.95, 280), (36.05, 270), (36.15, 265),
    (35.60, 310), (35.50, 240), (35.45, 230), (35.55, 220), (35.60, 235), (35.70, 225), (35.80, 215), (35.90, 230),
    (36.00, 210), (36.10, 200), (36.15, 245), (35.75, 245), (35.45, 170), (35.55, 185), (35.65, 180), (35.75, 160),
    (35.85, 150), (35.95, 140), (36.05, 175), (36.15, 180), (35.80, 195), (36.00, 130), (35.45, 60), (35.55, 45),
    (35.65, 40), (35.75, 70), (35.85, 75), (35.95, 60), (36.05, 55), (36.15, 65), (35.50, 25), (35.70, 95),
    (35.90, 100), (36.10, 110),
    (36.25, 290), (36.35, 300), (36.45, 310), (36.55, 315), (36.65, 320), (36.75, 310), (36.85, 325), (36.95, 305),
    (36.40, 275), (36.60, 290), (36.25, 240), (36.35, 255), (36.45, 230), (36.55, 220), (36.65, 245), (36.75, 260),
    (36.85, 240), (36.95, 255), (36.50, 265), (36.25, 190), (36.35, 175), (36.45, 160), (36.55, 150), (36.65, 140),
    (36.75, 125), (36.85, 110), (36.95, 115), (36.30, 140), (36.50, 195), (36.70, 180), (36.25, 80), (36.35, 85),
    (36.45, 90), (36.55, 100), (36.65, 105), (36.75, 95), (36.85, 85), (36.95, 70), (36.40, 60), (36.60, 50),
    (36.80, 45),
    (37.05, 295), (37.15, 300), (37.25, 305), (37.35, 290), (37.45, 280), (37.55, 285), (37.65, 295), (37.75, 300),
    (37.30, 260), (37.60, 265), (37.05, 240), (37.15, 230), (37.25, 245), (37.35, 250), (37.45, 235), (37.55, 220),
    (37.65, 240), (37.75, 230), (37.05, 130), (37.15, 145), (37.25, 160), (37.35, 175), (37.45, 185), (37.55, 170),
    (37.65, 155), (37.75, 140), (37.20, 110), (37.50, 120), (37.70, 105), (37.05, 55), (37.15, 60), (37.25, 50),
    (37.30, 40), (37.35, 30), (37.45, 35), (37.55, 40), (37.65, 45), (37.75, 50), (37.40, 70), (37.60, 95),
    (37.70, 85),
    (37.85, 330), (37.95, 315), (38.05, 325), (38.15, 335), (38.25, 340), (38.35, 345), (38.45, 330), (38.55, 350),
    (38.10, 300), (38.40, 310), (37.85, 265), (37.95, 250), (38.05, 240), (38.15, 230), (38.25, 215), (38.35, 205),
    (38.45, 210), (38.55, 220), (38.00, 275), (37.85, 150), (37.95, 160), (38.05, 175), (38.15, 140), (38.25, 125),
    (38.35, 110), (38.45, 140), (38.55, 160), (38.10, 195), (38.30, 190), (37.85, 35), (37.95, 40), (38.05, 50),
    (38.15, 45), (38.25, 35), (38.35, 25), (38.45, 20), (38.55, 15), (38.00, 65), (38.20, 80), (38.40, 60),
    (38.50, 90),
    (38.65, 355), (38.75, 345), (38.85, 350), (38.95, 335), (39.05, 320), (39.15, 300), (39.25, 310), (39.35, 330),
    (38.80, 320), (39.10, 285), (38.65, 250), (38.75, 230), (38.85, 215), (38.95, 200), (39.05, 205), (39.15, 195),
    (39.25, 210), (39.35, 240), (39.00, 260), (38.65, 130), (38.75, 120), (38.85, 110), (38.95, 105), (39.05, 95),
    (39.15, 100), (39.25, 130), (39.35, 150), (38.80, 180), (39.10, 170), (38.65, 50), (38.75, 65), (38.85, 70),
    (38.95, 60), (39.05, 55), (39.15, 45), (39.25, 40), (39.35, 60), (38.70, 20), (38.90, 10), (39.20, 25),
    (39.45, 345), (39.55, 330), (39.65, 310), (39.75, 300), (39.85, 290), (39.95, 320), (39.50, 360), (39.70, 350),
    (39.90, 340), (39.45, 260), (39.55, 250), (39.65, 265), (39.75, 255), (39.85, 240), (39.95, 230), (39.60, 220),
    (39.45, 170), (39.55, 150), (39.65, 130), (39.75, 120), (39.85, 110), (39.95, 100), (39.50, 200), (39.80, 180),
    (39.45, 50), (39.55, 40), (39.65, 30), (39.75, 25), (39.85, 20), (39.95, 15), (39.60, 70), (39.90, 55),
]
h_dots_more = [
    (30.05, 345), (30.20, 355), (30.33, 305), (30.45, 300), (30.55, 340), (30.68, 330), (30.78, 300), (30.92, 320),
    (31.12, 325), (31.27, 308), (31.42, 335), (31.55, 315), (31.65, 300), (31.95, 355), (32.25, 330), (32.38, 345),
    (32.52, 320), (32.65, 340), (32.78, 330), (33.00, 300), (33.25, 345), (33.50, 340), (33.70, 325), (33.90, 345),
    (34.20, 320), (34.40, 358), (34.60, 340), (34.85, 330), (35.10, 325), (35.25, 290), (30.30, 240), (30.55, 200),
    (30.80, 150), (31.05, 110), (31.30, 200), (31.55, 230), (31.80, 120), (32.05, 160), (32.30, 210), (32.55, 100),
    (32.80, 230), (33.05, 160), (33.30, 120), (33.55, 220), (33.80, 95), (34.05, 210), (34.30, 150), (34.55, 60),
    (34.80, 110), (35.05, 210), (35.30, 130), (35.55, 110), (35.80, 30), (36.05, 240), (36.30, 120), (36.55, 40),
    (36.80, 200), (37.05, 100), (37.30, 200), (37.55, 110), (37.80, 200), (38.05, 100), (38.30, 280), (38.55, 120),
    (38.80, 240), (39.05, 150), (39.30, 270), (39.55, 100), (39.80, 210), (30.15, 60), (30.35, 20), (31.60, 95),
    (32.30, 30), (33.25, 25), (34.65, 15), (34.70, 28), (34.30, 5), (34.75, 8), (37.35, 15), (38.60, 35),
    (38.75, 40), (39.30, 15), (39.60, 5), (39.70, 45),
]

# ---------------- axis tick labels ----------------
time_ticks = [3.0e7, 3.2e7, 3.4e7, 3.6e7, 3.8e7, 4.0e7]
time_labels = [r"$\mathrm{3{\times}10^{7}}$", r"$\mathrm{3.2{\times}10^{7}}$", r"$\mathrm{3.4{\times}10^{7}}$",
               r"$\mathrm{3.6{\times}10^{7}}$", r"$\mathrm{3.8{\times}10^{7}}$", r"$\mathrm{4{\times}10^{7}}$"]
semimajor_ticks = [20, 30, 40, 50, 60]

LABEL_FONT = dict(family="Liberation Serif", weight="bold", size=13.5)
TICK_SIZE = 12
PANEL_SIZE = 15.5


def unzip(pairs, scale_x=1.0):
    arr = np.array(pairs, dtype=float)
    return arr[:, 0] * scale_x, arr[:, 1]


def rows_to_points(rows):
    ts, ys = [], []
    for ang, times in rows:
        for t in times:
            ts.append(t)
            ys.append(ang)
    return np.array(ts) * MYR, np.array(ys, dtype=float)


def num_fmt(v, _pos):
    if abs(v) < 1e-9:
        return "0"
    return f"{v:g}"


def style_axes(ax, ymajor, yminor, ylim, yticks=None):
    ax.set_ylim(*ylim)
    if yticks is not None:
        ax.yaxis.set_major_locator(FixedLocator(yticks))
    else:
        ax.yaxis.set_major_locator(MultipleLocator(ymajor))
    ax.yaxis.set_minor_locator(MultipleLocator(yminor))
    ax.yaxis.set_major_formatter(FuncFormatter(num_fmt))
    ax.tick_params(which="both", direction="in", top=True, right=True, width=1.0, labelsize=TICK_SIZE)
    ax.tick_params(which="major", length=7.5)
    ax.tick_params(which="minor", length=3.8)
    ax.tick_params(axis="y", labelrotation=90, pad=4)
    ax.tick_params(axis="x", pad=4)
    for lab in ax.get_yticklabels():
        lab.set_va("center")
    for s in ax.spines.values():
        s.set_linewidth(1.5)


def time_axis(ax):
    ax.set_xlim(3.0e7, 4.0e7)
    ax.xaxis.set_major_locator(FixedLocator(time_ticks))
    ax.xaxis.set_major_formatter(FixedFormatter(time_labels))
    ax.xaxis.set_minor_locator(MultipleLocator(1.0e6))


def labels(ax, xlabel, ylabel):
    ax.set_xlabel(xlabel, va="center", **LABEL_FONT)
    ax.xaxis.set_label_coords(0.5, -0.213)
    ax.set_ylabel(ylabel, va="center", **LABEL_FONT)
    ax.yaxis.set_label_coords(-0.079, 0.5)


def panel_tag(ax, text, x, y, boxed=False):
    kw = dict(transform=ax.transAxes, fontsize=PANEL_SIZE, ha="center", va="center")
    if boxed:
        ax.text(x, y, text, color="white",
                bbox=dict(boxstyle="square,pad=0.12", fc="black", ec="black"), **kw)
    else:
        ax.text(x, y, text, color="black", **kw)


fig = plt.figure(figsize=(11.35, 11.33), dpi=100)
LX, RX = 0.04978, 0.54802
LW, RW = 0.42379, 0.42467
ROW_B = [0.80230, 0.55163, 0.30141, 0.05119]
ROW_H = [0.18711, 0.18800, 0.18711, 0.18711]

ax_a = fig.add_axes([LX, ROW_B[0], LW, ROW_H[0]])
ax_b = fig.add_axes([RX, ROW_B[0], RW, ROW_H[0]])
ax_c = fig.add_axes([LX, ROW_B[1], LW, ROW_H[1]])
ax_d = fig.add_axes([RX, ROW_B[1], RW, ROW_H[1]])
ax_e = fig.add_axes([LX, ROW_B[2], LW, ROW_H[2]])
ax_f = fig.add_axes([RX, ROW_B[2], RW, ROW_H[2]])
ax_g = fig.add_axes([LX, ROW_B[3], LW, ROW_H[3]])
ax_h = fig.add_axes([RX, ROW_B[3], RW, ROW_H[3]])

# (a)
line_kw = dict(color="black", lw=1.1, solid_joinstyle="miter")
for path in (trail_upper_left, trail_upper_left2, trail_left, trail_converge, fan_top, fan_upper, fan_upper2,
             fan_band_a, fan_band_b, fan_band_b2, fan_band_c, fan_line_d, fan_line_e, fan_line_f,
             trail_right_a, trail_right_b, trail_right_c, cluster_start_spikes, cluster_end_spikes):
    xs, ys = unzip(path)
    ax_a.plot(xs, ys, **line_kw)
for blob in (cluster_start, cluster_end):
    xs, ys = unzip(blob)
    ax_a.fill(xs, ys, color="black", lw=1.0)
a_q = np.linspace(Q_PERI, 59.0, 200)
ax_a.plot(a_q, 1.0 - Q_PERI / a_q, color="black", lw=1.1, ls=(0, (14, 8)))
ax_a.text(42.8, 0.134, "q=35 au", rotation=37, ha="center", va="center", fontsize=12.5)
ax_a.annotate("", xy=arrow_head, xytext=arrow_tail,
              arrowprops=dict(arrowstyle="-|>,head_length=0.7,head_width=0.25", color="black", lw=1.1,
                              shrinkA=0, shrinkB=0))
ax_a.plot([a_now_start, a_now_end], [e_now_start, e_now_end], "o", color="#ff0000", ms=11, mew=0, zorder=6)
ax_a.set_xlim(20, 60)
ax_a.xaxis.set_major_locator(FixedLocator(semimajor_ticks))
ax_a.xaxis.set_minor_locator(MultipleLocator(2))
style_axes(ax_a, 0.1, 0.02, (0, 0.5))
labels(ax_a, "Semimajor axis (au)", "Eccentricity")
ax_a.yaxis.set_label_coords(-0.08, 0.5)
panel_tag(ax_a, "(a)", 0.075, 0.87)

# (b)
tr, ar = unzip(b_res73, MYR)
ax_b.plot(tr, ar, color="#ff0000", lw=1.6)
tb, ab = unzip(b_object, MYR)
ax_b.plot(tb, ab, color="black", lw=1.5)
ax_b.text(res73_label[0] * MYR, res73_label[1], "7:3", color="#ff0000", fontsize=15, ha="center", va="center")
time_axis(ax_b)
style_axes(ax_b, 10, 5, (20, 60), yticks=[30, 40, 50, 60])
labels(ax_b, "Time (yr)", "Semimajor axis (AU)")
panel_tag(ax_b, "(b)", 0.92, 0.127)

# (c)
tc, ec = unzip(c_ecc, MYR)
ax_c.plot(tc, ec, color="black", lw=1.5)
time_axis(ax_c)
style_axes(ax_c, 0.1, 0.02, (0, 0.5))
labels(ax_c, "Time (yr)", "Eccentricity")
ax_c.yaxis.set_label_coords(-0.08, 0.5)
panel_tag(ax_c, "(c)", 0.076, 0.87)

# (d)
td, idg = unzip(d_incl, MYR)
ax_d.plot(td, idg, color="black", lw=1.5)
time_axis(ax_d)
style_axes(ax_d, 2, 1, (0, 10))
labels(ax_d, "Time (yr)", "Inclination (deg)")
panel_tag(ax_d, "(d)", 0.083, 0.87)

dot_kw = dict(ls="none", marker="s", ms=1.8, mew=0, color="black")
dense_kw = dict(color="black", lw=1.8, ls=(0, (0.9, 0.6)))
sparse_kw = dict(color="black", lw=1.5, ls=(0, (0.8, 1.6)))

# (e)
te, ae = rows_to_points(e_cloud_rows)
ax_e.plot(te, ae, **dot_kw)
xs, ys = unzip(e_chain, MYR)
ax_e.plot(xs, ys, **dot_kw)
for trk in (e_track1, e_track2, e_track3):
    xs, ys = unzip(trk, MYR)
    ax_e.plot(xs, ys, **dense_kw)
time_axis(ax_e)
style_axes(ax_e, 100, 20, (0, 360), yticks=[0, 100, 200, 300])
labels(ax_e, "Time (yr)", r"$\mathit{\nu}_{\mathbf{8}}$ angle (deg)")
panel_tag(ax_e, "(e)", 0.922, 0.87)

# (f)
for trk in (f_track1, f_track2, f_track3, f_track4):
    xs, ys = unzip(trk, MYR)
    ax_f.plot(xs, ys, **sparse_kw)
xs, ys = unzip(f_scatter, MYR)
ax_f.plot(xs, ys, **dot_kw)
for trk in (f_track5, f_track6, f_track7):
    xs, ys = unzip(trk, MYR)
    ax_f.plot(xs, ys, **dense_kw)
time_axis(ax_f)
style_axes(ax_f, 100, 20, (0, 360), yticks=[0, 100, 200, 300])
labels(ax_f, "Time (yr)", r"$\mathit{\nu}_{\mathbf{18}}$ angle (deg)")
panel_tag(ax_f, "(f)", 0.925, 0.87)

# (g)
tg, ag = rows_to_points(g_cloud_rows)
ax_g.plot(tg, ag, **dot_kw)
for trk in (g_track1, g_track2, g_track3):
    xs, ys = unzip(trk, MYR)
    ax_g.plot(xs, ys, **sparse_kw)
for trk in (g_track4, g_track5):
    xs, ys = unzip(trk, MYR)
    ax_g.plot(xs, ys, color="black", lw=1.6)
time_axis(ax_g)
style_axes(ax_g, 100, 20, (0, 360), yticks=[0, 100, 200, 300])
labels(ax_g, "Timei (yr)", "Kozai angle (deg)")
panel_tag(ax_g, "(g)", 0.916, 0.87)

# (h)
for dots in (h_dots, h_dots_more):
    th, ah = unzip(dots, MYR)
    ax_h.plot(th, ah, **dot_kw)
time_axis(ax_h)
style_axes(ax_h, 100, 20, (0, 360), yticks=[0, 100, 200, 300])
labels(ax_h, "Time (yr)", "7:3 angle (deg)")
panel_tag(ax_h, "(h)", 0.922, 0.87, boxed=True)

fig.savefig("out.png", dpi=100)
